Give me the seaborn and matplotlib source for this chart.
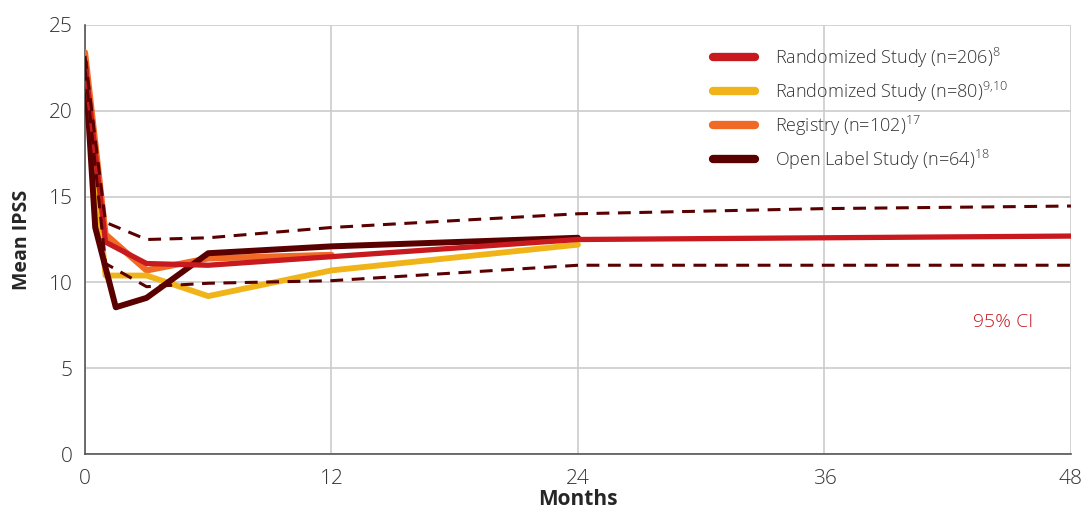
import seaborn as sns
import matplotlib.pyplot as plt
import pandas as pd
from matplotlib.lines import Line2D

# Valores (meses, IPSS medio)
months_206 = [0, 1, 3, 6, 12, 24, 36, 48]
ipss_206 = [22.8, 12.35, 11.1, 11.0, 11.5, 12.5, 12.6, 12.7]

months_80 = [0, 1, 3, 6, 12, 24]
ipss_80 = [22.6, 10.4, 10.4, 9.2, 10.7, 12.2]

months_102 = [0, 1, 3, 6, 12]
ipss_102 = [23.4, 12.8, 10.7, 11.4, 11.6]

months_64 = [0, 0.5, 1.5, 3, 6, 12, 24]
ipss_64 = [22.8, 13.2, 8.55, 9.1, 11.7, 12.1, 12.6]

months_ci = [0, 1, 3, 6, 12, 24, 36, 48]
ci_upper = [23.2, 13.5, 12.5, 12.6, 13.2, 14.0, 14.3, 14.45]
ci_lower = [22.5, 11.1, 9.75, 9.95, 10.1, 11.0, 11.0, 11.0]

labels = ["Randomized Study (n=206)$^{8}$",
          "Randomized Study (n=80)$^{9{,}10}$",
          "Registry (n=102)$^{17}$",
          "Open Label Study (n=64)$^{18}$"]
colors = ["#C8191F", "#F0B418", "#F06A25", "#5A0000"]

series = [(months_206, ipss_206), (months_80, ipss_80),
          (months_102, ipss_102), (months_64, ipss_64)]

sns.set_style("white")
plt.rcParams['font.family'] = ['Open Sans', 'DejaVu Sans']
plt.rcParams['mathtext.fontset'] = 'custom'
plt.rcParams['mathtext.rm'] = 'Open Sans:light'

fig = plt.figure(figsize=(10.81, 5.15), dpi=100)
ax = fig.add_axes([0.0786, 0.1184, 0.9121, 0.8331])

# orden de dibujo: naranja, amarillo, granate, rojo
zorders = [6, 4, 3, 5]
widths = [3.8, 4.2, 4.5, 4.3]
for (x, y), c, z, w in zip(series, colors, zorders, widths):
    df = pd.DataFrame({"Months": x, "IPSS": y})
    sns.lineplot(data=df, x="Months", y="IPSS", color=c, linewidth=w,
                 zorder=z, ax=ax, solid_capstyle='round', solid_joinstyle='round')

for ci in (ci_upper, ci_lower):
    df = pd.DataFrame({"Months": months_ci, "IPSS": ci})
    sns.lineplot(data=df, x="Months", y="IPSS", color="#5A0000", linewidth=2.2,
                 linestyle=(0, (4.2, 2.8)), zorder=7, ax=ax)

ax.set_xlim(0, 48)
ax.set_ylim(0, 25)
ax.set_xticks([0, 12, 24, 36, 48])
ax.set_yticks([0, 5, 10, 15, 20, 25])
ax.grid(True, color="#cccccc", linewidth=1.2)
ax.set_axisbelow(True)
for s in ("top", "right"):
    ax.spines[s].set_visible(False)
for s in ("left", "bottom"):
    ax.spines[s].set_color("#555555")
    ax.spines[s].set_linewidth(1.2)
ax.tick_params(axis="both", labelsize=15, colors="#333333", length=0)
ax.tick_params(axis="x", pad=11)
ax.tick_params(axis="y", pad=9)
for t in ax.get_xticklabels() + ax.get_yticklabels():
    t.set_fontweight("light")

ax.set_xlabel("Months", fontsize=15, fontweight="bold", labelpad=0)
ax.set_ylabel("Mean IPSS", fontsize=14, fontweight="bold", labelpad=12)

ax.text(44.7, 7.7, "95% CI", color="#C8191F", fontsize=14, fontweight="light",
        ha="center", va="center")

handles = [Line2D([0], [0], color=c, linewidth=6, solid_capstyle='round') for c in colors]
leg = ax.legend(handles, labels, loc="upper right", bbox_to_anchor=(0.952, 0.99),
                frameon=False, fontsize=13, handlelength=2.3, handletextpad=1.1,
                labelspacing=0.55, labelcolor="#333333")
for t in leg.get_texts():
    t.set_fontweight("light")

fig.savefig("out.png", dpi=100)
